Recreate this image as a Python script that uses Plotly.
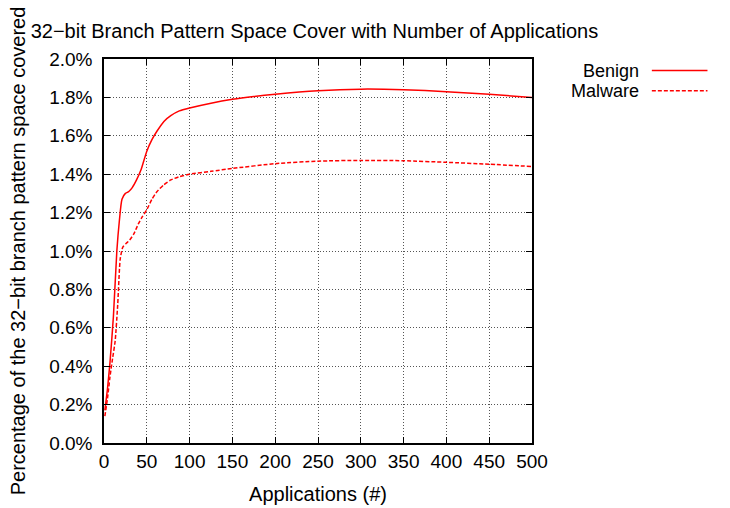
import plotly.graph_objects as go

benign_x = [1, 4, 7, 11, 15, 18, 21, 25, 29, 33, 38, 43, 50, 56, 62, 70, 78, 88, 100, 125, 150, 175, 200, 250, 300, 350, 400, 450, 500]
benign_y = [0.17, 0.28, 0.42, 0.66, 1.0, 1.16, 1.27, 1.30, 1.31, 1.33, 1.37, 1.42, 1.52, 1.58, 1.625, 1.675, 1.705, 1.73, 1.745, 1.77, 1.79, 1.805, 1.817, 1.835, 1.843, 1.84, 1.83, 1.816, 1.80]

malware_x = [1, 4, 7, 10, 13, 16, 19, 22, 26, 30, 35, 40, 45, 50, 56, 62, 70, 78, 88, 100, 125, 150, 200, 250, 300, 350, 400, 450, 500]
malware_y = [0.14, 0.23, 0.345, 0.44, 0.53, 0.72, 0.96, 1.02, 1.04, 1.057, 1.09, 1.14, 1.18, 1.215, 1.27, 1.31, 1.345, 1.37, 1.387, 1.40, 1.415, 1.43, 1.455, 1.468, 1.472, 1.47, 1.462, 1.452, 1.44]

x_ticks = [0, 50, 100, 150, 200, 250, 300, 350, 400, 450, 500]
y_ticks = [0.0, 0.2, 0.4, 0.6, 0.8, 1.0, 1.2, 1.4, 1.6, 1.8, 2.0]

FONT = "Liberation Sans, Arial, sans-serif"

fig = go.Figure()
fig.add_trace(go.Scatter(x=benign_x, y=benign_y, mode="lines", name="Benign",
                         line=dict(color="#ff0000", width=1.5, shape="spline", smoothing=0.6),
                         showlegend=False))
fig.add_trace(go.Scatter(x=malware_x, y=malware_y, mode="lines", name="Malware",
                         line=dict(color="#ff0000", width=1.5, dash="4px,2px", shape="spline", smoothing=0.6),
                         showlegend=False))

# gnuplot-style legend: right-aligned text with line sample on the right
leg = [("Benign", "solid", 0.970), ("Malware", "4px,2px", 0.917)]
for name, dash, yy in leg:
    fig.add_annotation(x=1.255, y=yy, xref="paper", yref="paper", text=name, showarrow=False,
                       xanchor="right", yanchor="middle", font=dict(family=FONT, size=18, color="black"))
    fig.add_shape(type="line", xref="paper", yref="paper", x0=1.28, x1=1.41, y0=yy, y1=yy,
                  line=dict(color="#ff0000", width=1.5, dash=dash))

axis_common = dict(showline=True, linecolor="black", linewidth=1.5, mirror="ticks",
                   ticks="inside", ticklen=6, tickcolor="black", automargin=False,
                   showgrid=True, gridcolor="#555555", griddash="1px,2px", gridwidth=1,
                   zeroline=False, tickfont=dict(family=FONT, size=19, color="black"))

fig.update_xaxes(range=[0, 500], tickvals=x_ticks, ticktext=[str(v) for v in x_ticks],
                 title=dict(text="Applications (#)", font=dict(family=FONT, size=20, color="black"), standoff=16),
                 **axis_common)
fig.update_yaxes(range=[0, 2.0], tickvals=y_ticks, ticktext=[f"{v:.1f}%" for v in y_ticks],
                 ticklabelstandoff=6,
                 title=dict(text="Percentage of the 32\u2212bit branch pattern space covered",
                            font=dict(family=FONT, size=20, color="black"), standoff=18),
                 **axis_common)

fig.update_layout(
    width=730, height=508,
    margin=dict(l=104, r=198, t=59, b=65),
    plot_bgcolor="white", paper_bgcolor="white",
    title=dict(text="32\u2212bit Branch Pattern Space Cover with Number of Applications",
               x=0.042, xanchor="left", y=0.939, yanchor="middle",
               font=dict(family=FONT, size=20, color="black")),
)

fig.write_html("out.html")
